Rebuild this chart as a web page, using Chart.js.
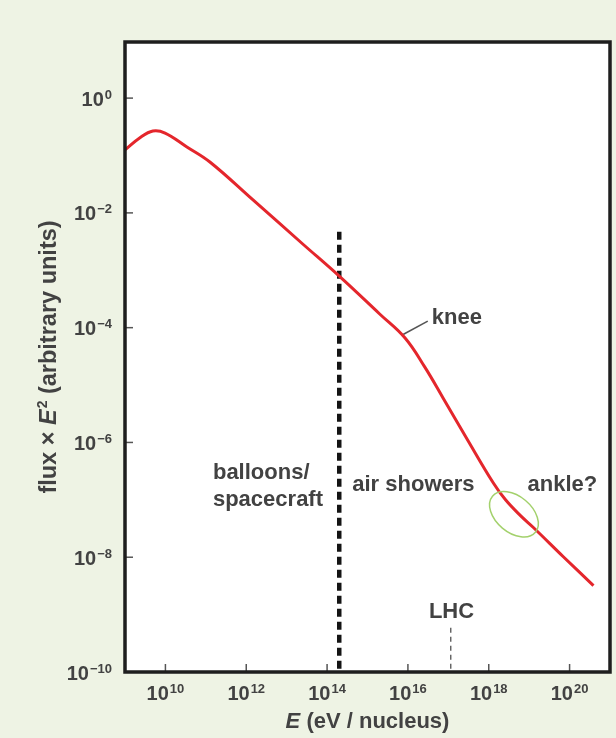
<!DOCTYPE html>
<html>
<head>
<title>Cosmic-ray energy spectrum</title>
<script src="https://cdn.jsdelivr.net/npm/chart.js"></script>
<style>
  html, body { margin: 0; padding: 0; background: #eef3e4; }
  #wrap { width: 616px; height: 738px; position: relative; }
</style>
</head>
<body>
<div id="wrap"><canvas id="spectrum" width="616" height="738"></canvas></div>
<script>
// spectrum: energy per nucleus (eV) and flux x E^2 (arbitrary units)
var energy = [1e9, 2.3e9, 4.9e9, 9.8e9, 3.4e10, 1.26e11, 1.47e12, 2.5e13, 2.0e14, 2.0e15,
              8.5e15, 2.6e16, 7.4e16, 2.9e17, 1.3e18, 2.6e18, 6.1e18, 1.27e19, 7.0e19, 3.9e20];
var fluxE2 = [0.125, 0.202, 0.267, 0.246, 0.141, 0.077, 0.0168, 0.00287, 7.9e-4, 1.73e-4,
              6.6e-5, 2.07e-5, 5.96e-6, 1.15e-6, 1.96e-7, 1.0e-7, 5.3e-8, 3.3e-8, 1.02e-8, 3.2e-9];

// boundary between direct detection and air-shower detection
var boundaryE = 2.0e14;
var boundaryFlux = [4.7e-3, 1e-10];

// LHC equivalent energy marker
var lhcE = 1.15e17;
var lhcFlux = [5.9e-10, 1e-10];

// knee pointer (from the curve out to the label)
var kneeLineE = [7.6e15, 3.1e16];
var kneeLineFlux = [7.6e-5, 1.3e-4];

// ankle ring centre
var ankleE = 4.2e18;
var ankleFlux = 5.6e-8;

// axis ticks
var xTicks = [1e10, 1e12, 1e14, 1e16, 1e18, 1e20];
var xTickExp = ['10', '12', '14', '16', '18', '20'];
var yTicks = [1e0, 1e-2, 1e-4, 1e-6, 1e-8, 1e-10];
var yTickExp = ['0', '\u22122', '\u22124', '\u22126', '\u22128', '\u221210'];

// text labels placed in data coordinates (left edge, vertical middle)
var noteText = ['balloons/', 'spacecraft', 'air showers', 'knee', 'ankle?', 'LHC'];
var noteE = [1.5e11, 1.5e11, 4.2e14, 3.9e16, 9.1e18, 1.2e17];
var noteFlux = [3e-7, 1e-7, 1.8e-7, 1.5e-4, 1.8e-7, 1.1e-9];
var noteAlign = ['left', 'left', 'left', 'left', 'left', 'center'];

var FONT = '"Liberation Sans", Arial, sans-serif';
var INK = '#424242';

function pts(xs, ys) {
    var out = [];
    for (var i = 0; i < xs.length; i++) out.push({ x: xs[i], y: ys[i] });
    return out;
}

function powLabel(ctx, exp, x, y, align) {
    ctx.font = 'bold 20px ' + FONT;
    var wBase = ctx.measureText('10').width;
    ctx.font = 'bold 13px ' + FONT;
    var wExp = ctx.measureText(exp).width;
    var total = wBase + wExp + 1;
    var left = align === 'right' ? x - total : x - total / 2;
    ctx.textAlign = 'left';
    ctx.textBaseline = 'middle';
    ctx.font = 'bold 20px ' + FONT;
    ctx.fillText('10', left, y);
    ctx.font = 'bold 13px ' + FONT;
    ctx.fillText(exp, left + wBase + 1, y - 5);
}

var decor = {
    id: 'decor',
    beforeDraw: function(chart) {
        var ctx = chart.ctx, a = chart.chartArea;
        ctx.save();
        ctx.fillStyle = '#eef3e4';
        ctx.fillRect(0, 0, chart.width, chart.height);
        ctx.fillStyle = '#ffffff';
        ctx.fillRect(a.left, a.top, a.right - a.left, a.bottom - a.top);
        ctx.restore();
    },
    afterDatasetsDraw: function(chart) {
        var ctx = chart.ctx, a = chart.chartArea;
        var xs = chart.scales.x, ys = chart.scales.y;
        ctx.save();

        // ankle ring
        ctx.strokeStyle = '#a3d16c';
        ctx.lineWidth = 1.5;
        ctx.beginPath();
        ctx.ellipse(xs.getPixelForValue(ankleE), ys.getPixelForValue(ankleFlux), 28, 18, 40 * Math.PI / 180, 0, 2 * Math.PI);
        ctx.stroke();

        // inward tick marks
        ctx.strokeStyle = '#555555';
        ctx.lineWidth = 1.5;
        xTicks.forEach(function(v) {
            var px = xs.getPixelForValue(v);
            ctx.beginPath();
            ctx.moveTo(px, a.bottom);
            ctx.lineTo(px, a.bottom - 8);
            ctx.stroke();
        });
        yTicks.forEach(function(v) {
            var py = ys.getPixelForValue(v);
            ctx.beginPath();
            ctx.moveTo(a.left, py);
            ctx.lineTo(a.left + 8, py);
            ctx.stroke();
        });

        // frame
        ctx.strokeStyle = '#1e1e1e';
        ctx.lineWidth = 3.5;
        ctx.strokeRect(a.left, a.top, a.right - a.left, a.bottom - a.top);

        // tick labels
        ctx.fillStyle = INK;
        xTicks.forEach(function(v, i) {
            powLabel(ctx, xTickExp[i], xs.getPixelForValue(v), a.bottom + 22, 'center');
        });
        yTicks.forEach(function(v, i) {
            powLabel(ctx, yTickExp[i], a.left - 13, ys.getPixelForValue(v) + 2, 'right');
        });

        // notes
        ctx.font = 'bold 22px ' + FONT;
        ctx.textBaseline = 'middle';
        noteText.forEach(function(t, i) {
            ctx.textAlign = noteAlign[i];
            ctx.fillText(t, xs.getPixelForValue(noteE[i]), ys.getPixelForValue(noteFlux[i]));
        });

        // x title: E (eV / nucleus)
        var cx = (a.left + a.right) / 2, ty = a.bottom + 50;
        ctx.textAlign = 'left';
        ctx.font = 'italic bold 22px ' + FONT;
        var wE = ctx.measureText('E').width;
        ctx.font = 'bold 22px ' + FONT;
        var rest = ' (eV / nucleus)';
        var wR = ctx.measureText(rest).width;
        var x0 = cx - (wE + wR) / 2;
        ctx.font = 'italic bold 22px ' + FONT;
        ctx.fillText('E', x0, ty);
        ctx.font = 'bold 22px ' + FONT;
        ctx.fillText(rest, x0 + wE, ty);

        // y title: flux x E^2 (arbitrary units)
        ctx.translate(50, (a.top + a.bottom) / 2);
        ctx.rotate(-Math.PI / 2);
        var big = 'bold 23.5px ' + FONT, bigIt = 'italic bold 23.5px ' + FONT, sup = 'bold 14px ' + FONT;
        var p1 = 'flux \u00d7 ', p2 = 'E', p3 = '2', p4 = ' (arbitrary units)';
        ctx.font = big;
        var w1 = ctx.measureText(p1).width, w4 = ctx.measureText(p4).width;
        ctx.font = bigIt;
        var w2 = ctx.measureText(p2).width;
        ctx.font = sup;
        var w3 = ctx.measureText(p3).width + 1;
        var s = -(w1 + w2 + w3 + w4) / 2;
        ctx.font = big;
        ctx.fillText(p1, s, 0);
        ctx.font = bigIt;
        ctx.fillText(p2, s + w1, 0);
        ctx.font = sup;
        ctx.fillText(p3, s + w1 + w2 + 1, -7);
        ctx.font = big;
        ctx.fillText(p4, s + w1 + w2 + w3, 0);

        ctx.restore();
    }
};

new Chart(document.getElementById('spectrum'), {
    type: 'scatter',
    data: {
        datasets: [{
            label: 'flux x E^2',
            data: pts(energy, fluxE2),
            showLine: true,
            borderColor: '#e4262c',
            borderWidth: 3,
            pointRadius: 0,
            tension: 0.4,
            order: 0
        }, {
            label: 'boundary',
            data: pts([boundaryE, boundaryE], boundaryFlux),
            showLine: true,
            borderColor: '#141414',
            borderWidth: 4.5,
            borderDash: [8, 5],
            pointRadius: 0,
            order: 1
        }, {
            label: 'LHC',
            data: pts([lhcE, lhcE], lhcFlux),
            showLine: true,
            borderColor: '#444444',
            borderWidth: 1.2,
            borderDash: [5, 4],
            pointRadius: 0,
            order: 2
        }, {
            label: 'knee pointer',
            data: pts(kneeLineE, kneeLineFlux),
            showLine: true,
            borderColor: '#555555',
            borderWidth: 1.6,
            pointRadius: 0,
            order: 3
        }]
    },
    options: {
        responsive: false,
        animation: false,
        devicePixelRatio: 1,
        layout: { padding: { top: 42, right: 6, left: 0, bottom: 0 } },
        plugins: { legend: { display: false }, tooltip: { enabled: false } },
        scales: {
            x: {
                type: 'logarithmic', min: 1e9, max: 1e21,
                ticks: { display: false }, grid: { display: false }, border: { display: false },
                afterFit: function(s) { s.height = 66; }
            },
            y: {
                type: 'logarithmic', min: 1e-10, max: 9.5,
                ticks: { display: false }, grid: { display: false }, border: { display: false },
                afterFit: function(s) { s.width = 125; }
            }
        }
    },
    plugins: [decor]
});
</script>
</body>
</html>
